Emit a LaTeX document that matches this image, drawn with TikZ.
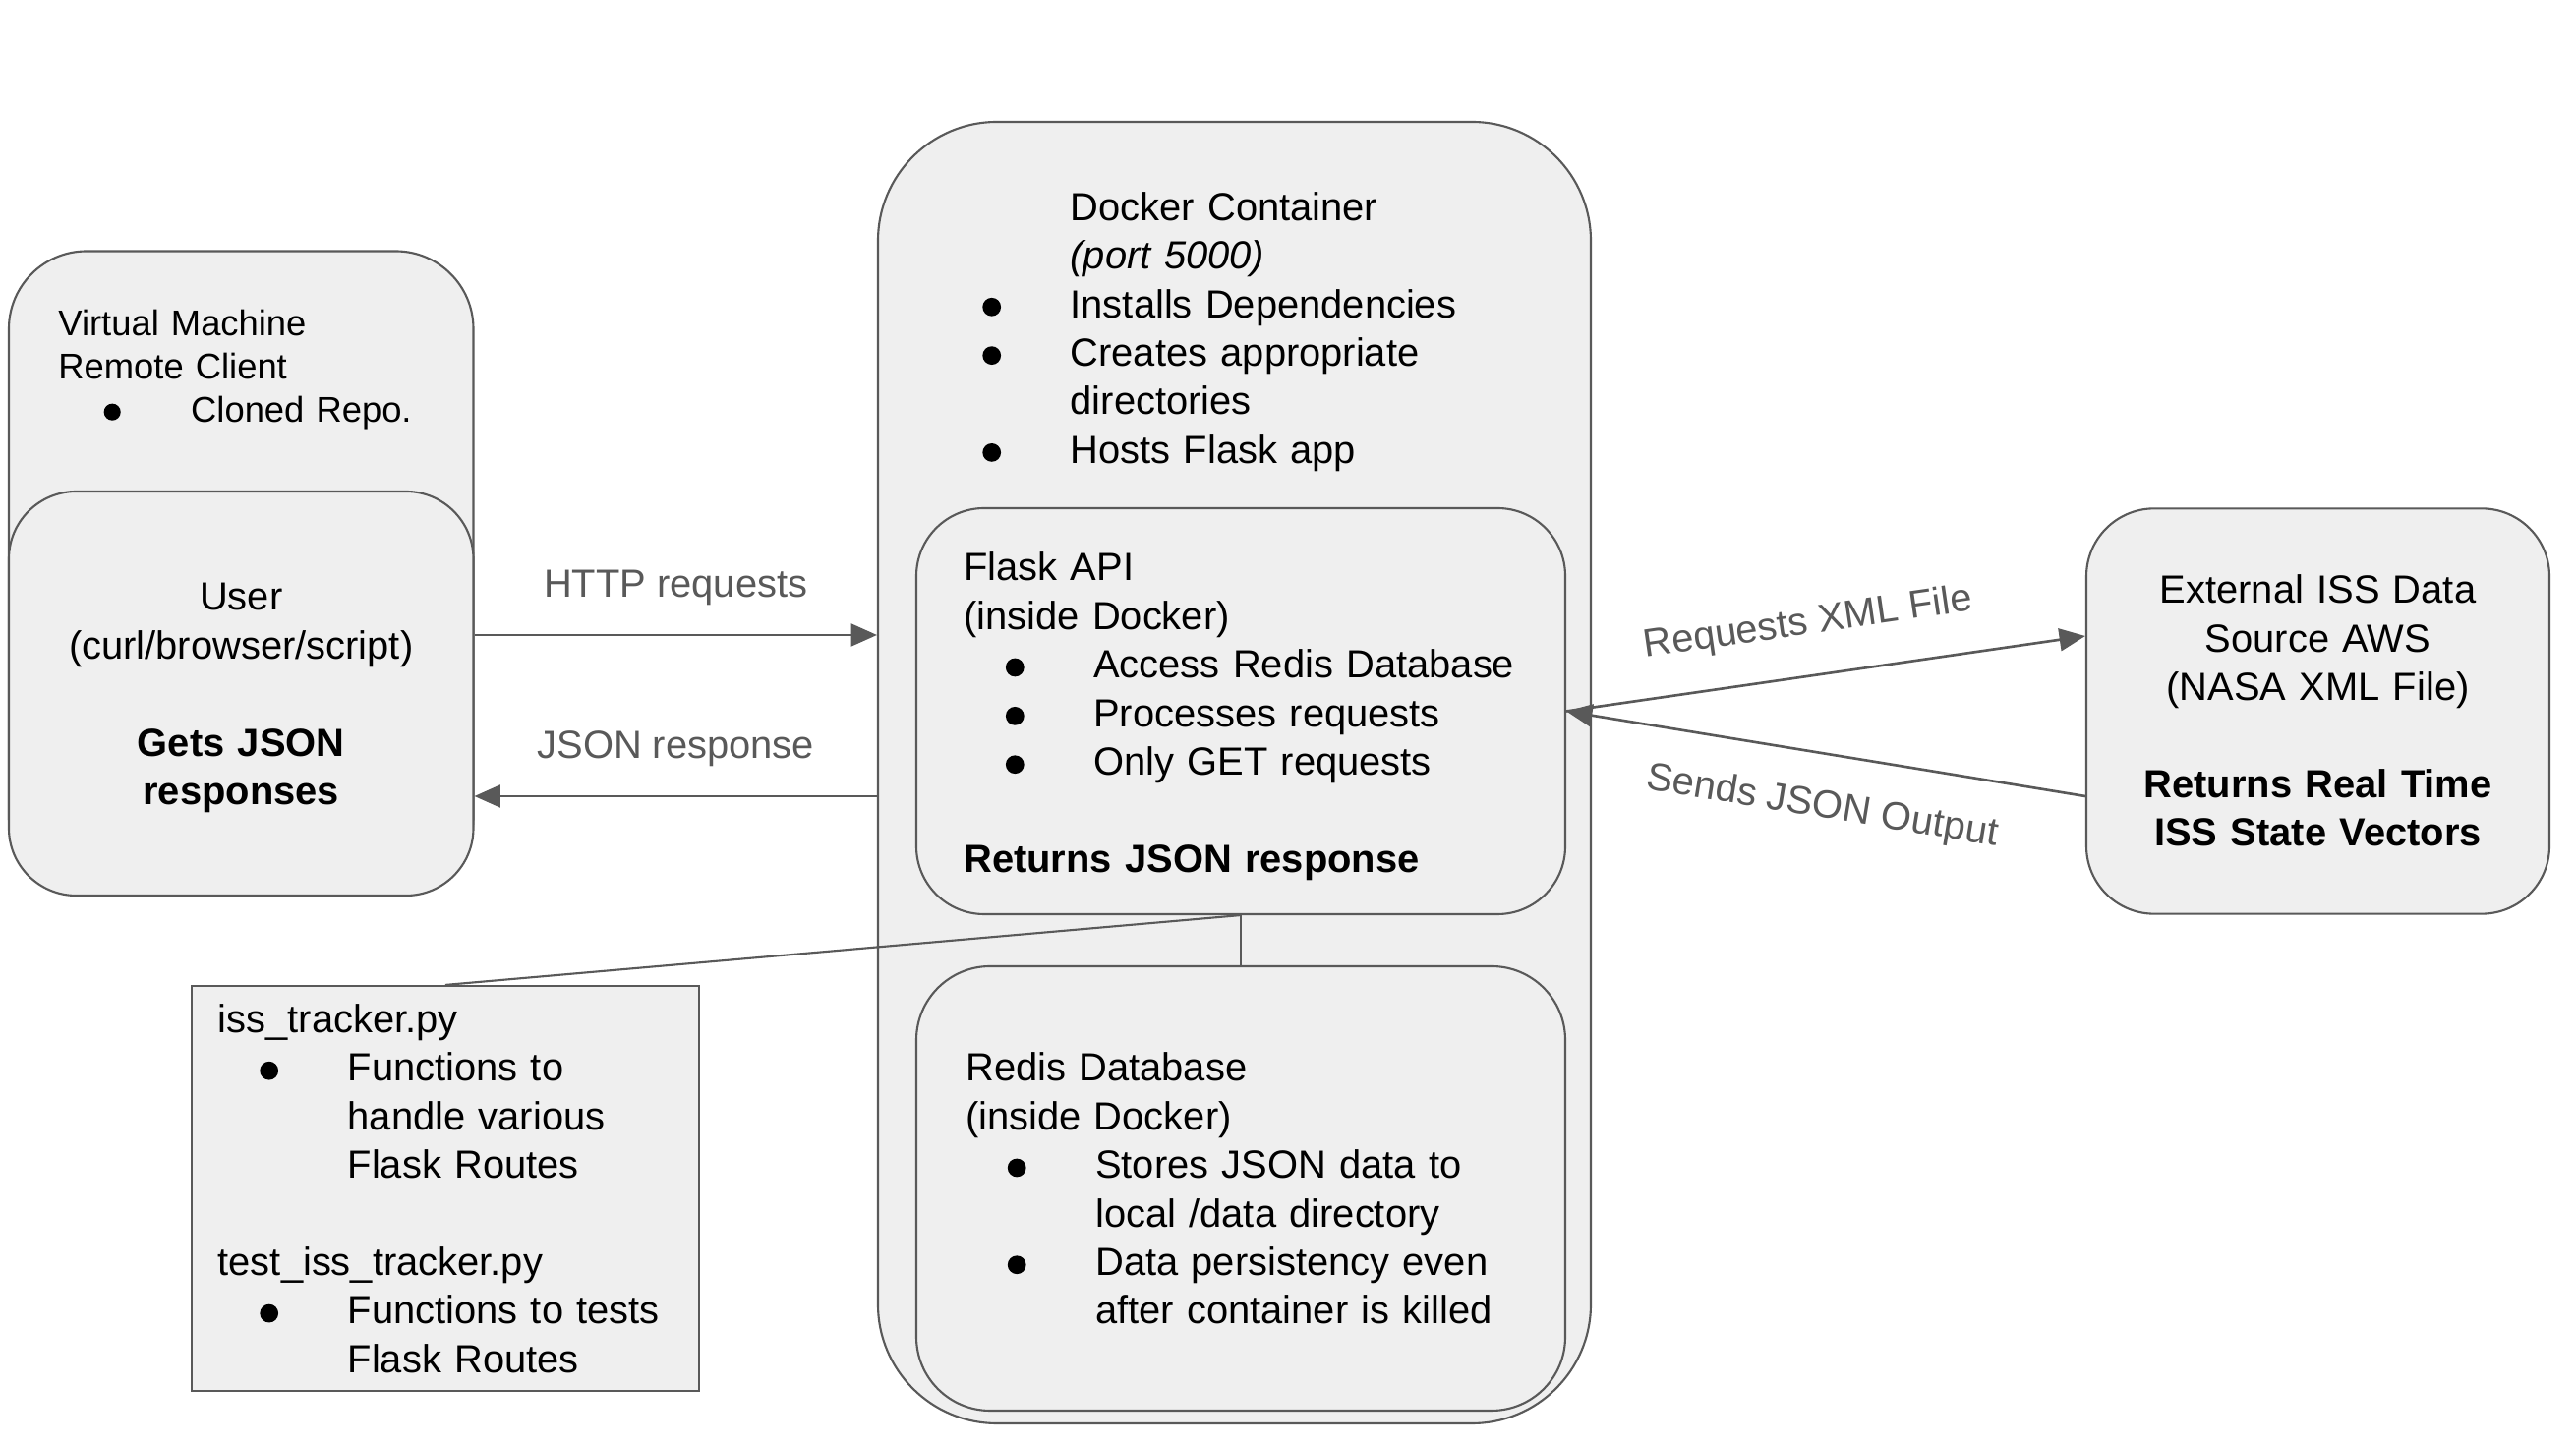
\documentclass[tikz,border=0pt]{standalone}
\usepackage{fontspec}
\setmainfont{Liberation Sans}
\usetikzlibrary{arrows.meta}
\definecolor{edge}{HTML}{595959}
\definecolor{panel}{HTML}{EFEFEF}
\newcommand{\mainsize}{\fontsize{11.35}{14.05}\selectfont}
\newcommand{\vmsize}{\fontsize{10.35}{12.38}\selectfont}
\newcommand{\bulletdot}{\tikz[baseline=-0.27em]\fill (0,0) circle[radius=0.235em];}
\newcommand{\bitem}[1][0.52cm]{\hspace*{#1}\makebox[0pt]{\bulletdot}\hspace*{0.8cm}}
\newcommand{\bcont}[1][1.32cm]{\hspace*{#1}}
\tikzset{
  box/.style={draw=edge, fill=panel, line width=0.6pt, inner sep=0pt},
  txt/.style={inner sep=0pt, align=left, anchor=base west, font=\mainsize},
  ctxt/.style={inner sep=0pt, align=center, anchor=base, font=\mainsize},
  arr/.style={draw=edge, line width=0.75pt, -{Triangle[length=7.5pt,width=6.5pt]}},
  arrb/.style={draw=edge, line width=0.75pt, {Triangle[length=7.5pt,width=6.5pt]}-},
  lbl/.style={text=edge, font=\mainsize}
}
\begin{document}
\begin{tikzpicture}
\path[use as bounding box, fill=white] (0,0) rectangle (26.2,14.72);
%
\node[box, rounded corners=0.79cm, minimum width=4.725cm, minimum height=6.555cm] (vm) at (2.4525,8.8875) {};
\node[txt, font=\vmsize, text width=4cm] (vmtext) at (0.587,11.30)
  {Virtual Machine\\Remote Client\\\bitem[0.548cm]Cloned Repo.};
\node[box, rounded corners=0.685cm, minimum width=4.725cm, minimum height=4.11cm] (user) at (2.4525,7.665) {};
\node[ctxt, text width=4.5cm] (usertext) at (2.4525,8.51)
  {User\\(curl/browser/script)\\[\baselineskip]\textbf{Gets JSON}\\\textbf{responses}};
%
\node[box, rounded corners=1.21cm, minimum width=7.25cm, minimum height=13.24cm] (docker) at (12.555,6.86) {};
\node[txt, text width=5.2cm] (dockertext) at (10.88,12.477)
  {Docker Container\\\textit{(port 5000)}\\\bitem[-0.8cm]Installs Dependencies\\\bitem[-0.8cm]Creates appropriate\\directories\\\bitem[-0.8cm]Hosts Flask app};
%
\node[box, rounded corners=0.69cm, minimum width=6.6cm, minimum height=4.13cm] (flask) at (12.62,7.485) {};
\node[txt, text width=6cm] (flasktext) at (9.796,8.81)
  {Flask API\\(inside Docker)\\\bitem Access Redis Database\\\bitem Processes requests\\\bitem Only GET requests\\[\baselineskip]\textbf{Returns JSON response}};
%
\node[box, rounded corners=0.75cm, minimum width=6.6cm, minimum height=4.52cm] (redis) at (12.62,2.63) {};
\node[txt, text width=6cm] (redistext) at (9.815,3.72)
  {Redis Database\\(inside Docker)\\\bitem Stores JSON data to\\\bcont local /data directory\\\bitem Data persistency even\\\bcont after container is killed};
%
\node[box, rounded corners=0.69cm, minimum width=4.71cm, minimum height=4.123cm] (ext) at (23.575,7.485) {};
\node[ctxt, text width=4.5cm] (exttext) at (23.575,8.58)
  {External ISS Data\\Source AWS\\(NASA XML File)\\[\baselineskip]\textbf{Returns Real Time}\\\textbf{ISS State Vectors}};
%
\node[box, minimum width=5.16cm, minimum height=4.12cm] (iss) at (4.53,2.63) {};
\node[txt, text width=4.8cm] (isstext) at (2.21,4.214)
  {iss\_tracker.py\\\bitem Functions to\\\bcont handle various\\\bcont Flask Routes\\[\baselineskip]test\_iss\_tracker.py\\\bitem Functions to tests\\\bcont Flask Routes};
%
\coordinate (httpL) at ([yshift=0.595cm]user.east);
\coordinate (jsonL) at ([yshift=-1.045cm]user.east);
\draw[arr] (httpL) -- (httpL -| docker.west) node[lbl, midway, above=4.8pt] (httplbl) {HTTP requests};
\draw[arrb] (jsonL) -- (jsonL -| docker.west) node[lbl, midway, above=4.8pt] (jsonlbl) {JSON response};
%
\draw[arr] (flask.east) -- ([yshift=0.765cm]ext.west) node[lbl, sloped, pos=0.48, above=6pt] (reqlbl) {Requests XML File};
\draw[arrb] (flask.east) -- ([yshift=-0.865cm]ext.west) node[lbl, sloped, pos=0.51, below=6.5pt] (sendlbl) {Sends JSON Output};
%
\draw[draw=edge, line width=0.6pt] (iss.north) -- (flask.south);
\draw[draw=edge, line width=0.6pt] (flask.south) -- (redis.north);
\end{tikzpicture}
\end{document}
